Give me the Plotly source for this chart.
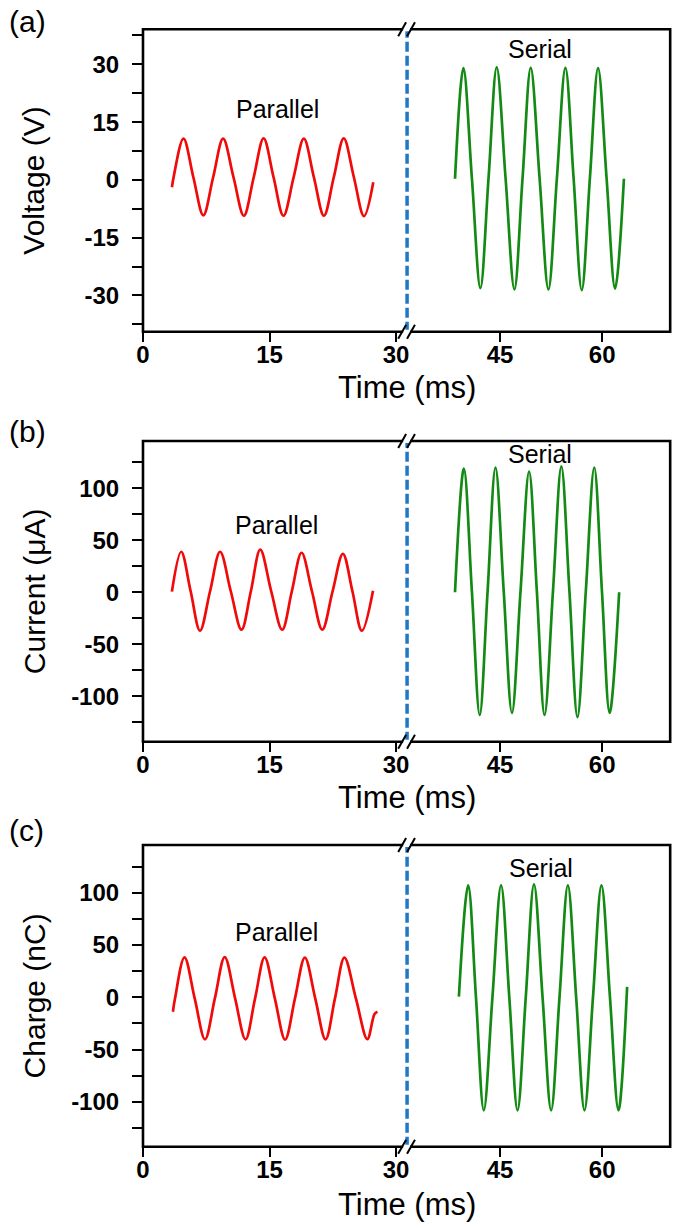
import plotly.graph_objects as go

# ---------------- data ----------------
# (a) Voltage (V)
t_par_v = [3.43, 3.63, 4.80, 5.97, 7.15, 8.32, 9.50, 10.73, 11.96, 13.13, 14.30, 15.48,
           16.65, 17.86, 19.07, 20.26, 21.45, 22.62, 23.80, 25.00, 26.20, 27.30]
v_par_v = [-1.9, 0.7, 10.7, 0.7, -9.2, 0.7, 10.7, 0.7, -9.3, 0.7, 10.8, 0.7,
           -9.3, 0.7, 10.7, 0.7, -9.3, 0.7, 10.8, 0.7, -9.4, -0.6]
t_ser_v = [38.37, 39.60, 40.85, 42.10, 43.30, 44.50, 45.80, 47.10, 48.30, 49.50, 50.80,
           52.10, 53.35, 54.60, 55.80, 57.00, 58.20, 59.40, 60.65, 61.90, 63.20]
v_ser_v = [0.3, 29.0, 0.5, -28.1, 0.5, 29.2, 0.5, -28.4, 0.5, 29.1, 0.5,
           -28.4, 0.5, 29.1, 0.5, -28.6, 0.5, 29.0, 0.5, -28.2, 0.3]

# (b) Current (uA)
t_par_i = [3.43, 4.53, 5.65, 6.76, 7.95, 9.14, 10.41, 11.68, 12.79, 13.90, 15.20,
           16.50, 17.65, 18.80, 20.03, 21.26, 22.48, 23.70, 24.83, 25.95, 27.27]
v_par_i = [0.6, 39, 1, -37, 1, 39, 1, -36, 1, 41, 1,
           -36, 1, 38, 1, -36, 1, 37, 1, -37, 1.5]
t_ser_i = [38.37, 39.67, 40.85, 42.00, 43.16, 44.32, 45.53, 46.74, 48.00, 49.26, 50.40,
           51.53, 52.77, 54.00, 55.19, 56.37, 57.60, 58.84, 59.97, 61.10, 62.50]
v_ser_i = [0, 119, 1, -118, 1, 120, 1, -116, 1, 116, 1,
           -118, 1, 121, 1, -120, 1, 120, 1, -116, 0]

# (c) Charge (nC)
t_par_q = [3.55, 3.80, 4.92, 6.13, 7.35, 8.52, 9.69, 10.92, 12.16, 13.29, 14.42, 15.63,
           16.85, 18.02, 19.19, 20.42, 21.65, 22.76, 23.88, 25.24, 26.60, 27.45, 27.80]
v_par_q = [-13.8, -1, 38.2, -1, -40.2, -1, 38.5, -1, -40.2, -1, 38.2, -1,
           -40.4, -1, 38.0, -1, -40.2, -1, 38.0, -1, -40.0, -16, -13.8]
t_ser_q = [38.94, 40.30, 41.45, 42.60, 43.87, 45.14, 46.35, 47.56, 48.77, 49.98, 51.24,
           52.50, 53.73, 54.96, 56.18, 57.40, 58.65, 59.90, 61.15, 62.40, 63.67]
v_ser_q = [0.6, 107, 0, -108, 0, 107, 0, -108, 0, 108, 0,
           -108, 0, 107, 0, -108, 0, 107, 0, -108, 10]

panel_letters = ["(a)", "(b)", "(c)"]
y_titles = ["Voltage (V)", "Current (\u03bcA)", "Charge (nC)"]
x_title = "Time (ms)"
series_names = ["Parallel", "Serial"]

x_ticks_left = [0, 15, 30]
x_ticks_right = [45, 60]
y_ticks_v = [-30, -15, 0, 15, 30]
y_ticks_iq = [-100, -50, 0, 50, 100]

# ---------------- layout geometry (pixels) ----------------
W, H = 685, 1228
FRAME_L, FRAME_R, BREAK_X = 138, 673, 405.5
X_BREAK_VAL = 31.25
X_MAX = 70
panels = [
    dict(top=29.3, bot=331.7, yr=[-39.4, 39.1], mdt=7.5, ticks=y_ticks_v, tstand=30,
         t1=t_par_v, y1=v_par_v, t2=t_ser_v, y2=v_ser_v,
         par_pos=(15.9, 18.3), ser_pos=(50.85, 34.0), letter_y=21.5, xt_y=387),
    dict(top=441.0, bot=741.7, yr=[-143.7, 145.5], mdt=25, ticks=y_ticks_iq, tstand=16,
         t1=t_par_i, y1=v_par_i, t2=t_ser_i, y2=v_ser_i,
         par_pos=(15.8, 64.7), ser_pos=(50.85, 133.0), letter_y=431, xt_y=797),
    dict(top=845.0, bot=1146.7, yr=[-142.8, 145.6], mdt=25, ticks=y_ticks_iq, tstand=16,
         t1=t_par_q, y1=v_par_q, t2=t_ser_q, y2=v_ser_q,
         par_pos=(15.8, 62.0), ser_pos=(51.0, 124.0), letter_y=830, xt_y=1204),
]

def px(x):
    return x / W

def py(y):
    return 1 - y / H

FONT = "Arial, Liberation Sans, sans-serif"
RED = "#f00a0a"
GREEN = "#138a13"
BLUE = "#1e78c8"

fig = go.Figure()
layout = dict(
    width=W, height=H, margin=dict(l=0, r=0, t=0, b=0),
    paper_bgcolor="white", plot_bgcolor="white", showlegend=False,
    font=dict(family=FONT, color="black"),
)
shapes = []
annotations = []

tickfont = dict(family=FONT, size=24, color="black", weight="bold")

def kx(i):
    return "xaxis" if i == 1 else f"xaxis{i}"

def ky(i):
    return "yaxis" if i == 1 else f"yaxis{i}"

def rx(i):
    return "x" if i == 1 else f"x{i}"

def ry(i):
    return "y" if i == 1 else f"y{i}"

for p, P in enumerate(panels):
    xl, xr = 2 * p + 1, 2 * p + 2
    yl, yr_ = 2 * p + 1, 2 * p + 2
    ydom = [py(P["bot"]), py(P["top"])]

    common_x = dict(
        tickmode="array", ticks="outside", ticklen=9, tickwidth=2, tickcolor="black",
        showline=False, showgrid=False, zeroline=False, tickfont=tickfont,
        ticklabelstandoff=-8,
    )
    layout[kx(xl)] = dict(
        domain=[px(FRAME_L), px(BREAK_X)], range=[0, X_BREAK_VAL], anchor=ry(yl),
        tickvals=x_ticks_left, ticktext=[str(v) for v in x_ticks_left], **common_x,
    )
    layout[kx(xr)] = dict(
        domain=[px(BREAK_X), px(FRAME_R)], range=[X_BREAK_VAL, X_MAX], anchor=ry(yr_),
        tickvals=x_ticks_right, ticktext=[str(v) for v in x_ticks_right], **common_x,
    )
    layout[ky(yl)] = dict(
        domain=ydom, range=P["yr"], anchor=rx(xl),
        tickmode="array", tickvals=P["ticks"], ticktext=[str(v) for v in P["ticks"]],
        ticks="outside", ticklen=10, tickwidth=2, tickcolor="black",
        minor=dict(ticks="outside", ticklen=10, tickwidth=2, tickcolor="black",
                   dtick=P["mdt"], tick0=0, showgrid=False),
        showline=False, showgrid=False, zeroline=False, tickfont=tickfont,
        ticklabelstandoff=8,
        title=dict(text=y_titles[p], font=dict(family=FONT, size=30), standoff=P["tstand"]),
    )
    layout[ky(yr_)] = dict(
        domain=ydom, matches=ry(yl), anchor=rx(xr), visible=False,
    )

    fig.add_trace(go.Scatter(
        x=P["t1"], y=P["y1"], xaxis=rx(xl), yaxis=ry(yl), mode="lines",
        line=dict(color=RED, width=2.7, shape="spline", smoothing=1.0),
        name=series_names[0],
    ))
    fig.add_trace(go.Scatter(
        x=P["t2"], y=P["y2"], xaxis=rx(xr), yaxis=ry(yr_), mode="lines",
        line=dict(color=GREEN, width=2.7, shape="spline", smoothing=1.0),
        name=series_names[1],
    ))

    ydref = f"{ry(yl)} domain"
    # frame
    shapes.append(dict(type="rect", xref="paper", yref=ydref,
                       x0=px(FRAME_L), x1=px(FRAME_R), y0=0, y1=1,
                       line=dict(color="black", width=2.6), layer="above"))
    # blue dashed break line
    shapes.append(dict(type="line", xref="paper", yref=ydref,
                       x0=px(BREAK_X + 0.5), x1=px(BREAK_X + 0.5), y0=0, y1=1,
                       line=dict(color=BLUE, width=3.5, dash="10px,4px"), layer="above"))
    # axis-break marks "//" on top and bottom edges
    for edge in (P["top"], P["bot"]):
        shapes.append(dict(type="line", xref="paper", yref="paper",
                           x0=px(BREAK_X - 3.5), x1=px(BREAK_X + 3.5), y0=py(edge), y1=py(edge),
                           line=dict(color="white", width=4), layer="above"))
        for dx in (-4.5, 4.5):
            cx = BREAK_X + dx
            shapes.append(dict(type="line", xref="paper", yref="paper",
                               x0=px(cx - 4), x1=px(cx + 4), y0=py(edge + 7), y1=py(edge - 7),
                               line=dict(color="black", width=2), layer="above"))

    # series labels
    annotations.append(dict(text=series_names[0], xref=rx(xl), yref=ry(yl),
                            x=P["par_pos"][0], y=P["par_pos"][1], showarrow=False,
                            font=dict(family=FONT, size=25, color="black")))
    annotations.append(dict(text=series_names[1], xref=rx(xr), yref=ry(yr_),
                            x=P["ser_pos"][0], y=P["ser_pos"][1], showarrow=False,
                            font=dict(family=FONT, size=25, color="black")))
    # x title centred under the whole (broken) axis
    annotations.append(dict(text=x_title, xref="paper", yref="paper",
                            x=px((FRAME_L + FRAME_R) / 2), y=py(P["xt_y"]),
                            xanchor="center", yanchor="middle", showarrow=False,
                            font=dict(family=FONT, size=31, color="black")))
    # panel letter
    annotations.append(dict(text=panel_letters[p], xref="paper", yref="paper",
                            x=0, y=py(P["letter_y"]), xanchor="left", yanchor="middle",
                            showarrow=False, font=dict(family=FONT, size=30, color="black")))

layout["shapes"] = shapes
layout["annotations"] = annotations
fig.update_layout(**layout)
fig.write_html(
    "out.html",
    config={"displayModeBar": False},
    post_script="document.body.style.margin='0px';document.body.style.padding='0px';"
                "document.documentElement.style.overflow='hidden';",
)
